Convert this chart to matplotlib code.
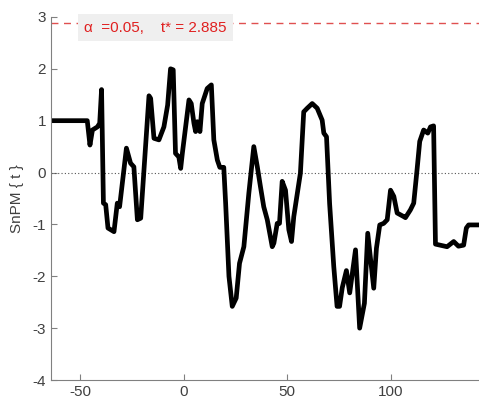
import matplotlib.pyplot as plt

# SnPM{t} trajectory
time = [-62.6, -46.5, -45.2, -44.0, -41.6, -40.5, -39.6, -38.7, -37.6, -36.5,
        -33.6, -32.0, -30.9, -27.6, -25.6, -24.0, -22.3, -20.7, -16.7, -15.9,
        -14.3, -11.9, -9.5, -7.7, -6.3, -5.0, -3.9, -2.3, -1.4, -0.6,
        2.6, 3.7, 5.0, 5.8, 6.6, 7.9, 9.0, 11.4, 13.4, 14.6,
        16.3, 17.5, 19.4, 20.3, 21.9, 23.5, 25.4, 27.0, 29.1, 31.5,
        33.9, 35.6, 37.1, 38.7, 40.4, 42.8, 43.6, 45.2, 46.3, 47.6,
        49.2, 50.8, 52.1, 53.2, 56.4, 58.0, 59.7, 62.1, 64.5, 66.9,
        67.7, 69.0, 70.5, 72.5, 74.1, 75.3, 76.6, 78.6, 80.2, 83.0,
        85.0, 87.3, 88.9, 91.8, 93.1, 94.7, 96.6, 98.3, 99.9, 101.5,
        103.1, 106.3, 107.1, 109.5, 111.1, 112.7, 114.0, 115.9, 117.9, 119.2,
        120.7, 121.6, 127.2, 130.4, 132.7, 135.2, 136.5, 137.6, 142.8]
snpm_t = [1.0, 1.0, 0.53, 0.82, 0.88, 0.95, 1.6, -0.59, -0.62, -1.07,
          -1.14, -0.59, -0.66, 0.47, 0.18, 0.11, -0.91, -0.88, 1.48, 1.43,
          0.66, 0.63, 0.88, 1.3, 2.0, 1.98, 0.37, 0.3, 0.08, 0.37,
          1.4, 1.33, 0.95, 0.79, 0.98, 0.79, 1.33, 1.62, 1.69, 0.63,
          0.24, 0.1, 0.1, -0.59, -2.0, -2.58, -2.42, -1.75, -1.43, -0.4,
          0.5, 0.11, -0.27, -0.66, -0.91, -1.43, -1.36, -0.98, -0.98, -0.17,
          -0.34, -1.1, -1.33, -0.85, -0.01, 1.17, 1.24, 1.33, 1.24, 1.01,
          0.76, 0.69, -0.6, -1.81, -2.58, -2.58, -2.22, -1.89, -2.32, -1.49,
          -3.0, -2.52, -1.17, -2.23, -1.46, -1.01, -0.98, -0.91, -0.34, -0.46,
          -0.78, -0.85, -0.87, -0.72, -0.59, 0.05, 0.6, 0.82, 0.76, 0.88,
          0.9, -1.38, -1.43, -1.33, -1.42, -1.4, -1.07, -1.01, -1.01]

alpha = 0.05
t_crit = 2.885

plt.rcParams['font.family'] = ['Liberation Sans', 'DejaVu Sans']
plt.rcParams['axes.unicode_minus'] = False

fig = plt.figure(figsize=(4.79, 4.03), dpi=100)
ax = fig.add_axes([0.1065, 0.057, 0.893, 0.901])

ax.axhline(0, color='#555555', linestyle=(0, (1, 2)), linewidth=0.8)
ax.axhline(t_crit, color='#e05050', linestyle=(0, (5, 4)), linewidth=1.0)
ax.plot(time, snpm_t, color='black', linewidth=3.4, solid_joinstyle='round')

ax.text(-48, t_crit - 0.09, '\u03b1  =%.2f,    t* = %.3f' % (alpha, t_crit),
        color='#e02020', fontsize=11, va='center',
        bbox=dict(boxstyle='square,pad=0.4', facecolor='#efefef', edgecolor='none'))

ax.set_xlim(-64, 142.5)
ax.set_ylim(-4, 3)
ax.set_xticks([-50, 0, 50, 100])
ax.set_yticks(range(-4, 4))
ax.spines['top'].set_visible(False)
ax.spines['right'].set_visible(False)
for s in ['left', 'bottom']:
    ax.spines[s].set_color('#808080')
ax.tick_params(direction='in', colors='#808080', labelcolor='#404040',
               labelsize=11, length=4)
ax.set_ylabel('SnPM { t }', fontsize=11, color='#404040', labelpad=6)

fig.savefig('out.png', dpi=100)
